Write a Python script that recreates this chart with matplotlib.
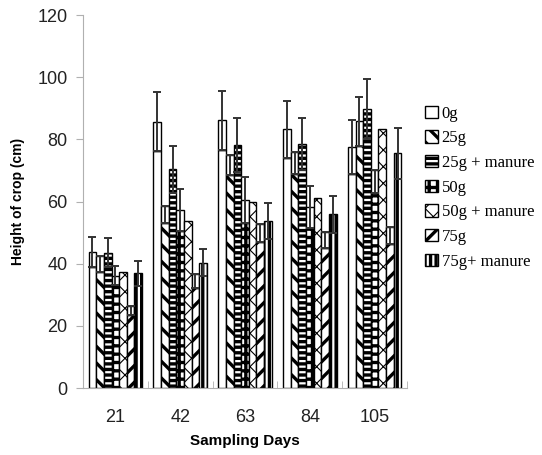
import numpy as np
import matplotlib
matplotlib.use("Agg")
import matplotlib.pyplot as plt
from matplotlib.patches import Patch

days = ["21", "42", "63", "84", "105"]
treatments = ["0g", "25g", "25g + manure", "50g", "50g + manure", "75g", "75g+ manure"]

# mean crop height (cm) per treatment, one value per sampling day
h_0g = [43.7, 85.7, 86.2, 83.3, 77.6]
h_25g = [42.5, 58.7, 75.0, 75.8, 85.8]
h_25gm = [43.5, 70.4, 78.2, 78.5, 89.8]
h_50g = [36.2, 57.3, 60.5, 58.3, 70.1]
h_50gm = [37.4, 53.7, 59.7, 61.0, 83.3]
h_75g = [26.4, 36.6, 52.8, 50.1, 51.9]
h_75gm = [36.9, 40.4, 53.7, 55.9, 75.5]

# lower / upper error as they show on the picture
lo_0g = [4.9, 9.4, 9.5, 9.2, 8.6]
lo_25g = [5.0, 5.6, 6.5, 7.0, 7.9]
lo_25gm = [4.7, 7.5, 8.6, 8.5, 9.6]
lo_50g = [3.0, 6.9, 7.3, 6.8, 7.5]
lo_50gm = [0, 0, 0, 0, 0]
lo_75g = [3.0, 4.4, 5.8, 5.0, 5.4]
lo_75gm = [4.0, 4.3, 5.9, 6.0, 8.3]

up_0g = lo_0g
up_25g = [0, 0, 0, 0, 7.9]
up_25gm = lo_25gm
up_50g = [3.0, 6.9, 7.3, 6.8, 0]
up_50gm = lo_50gm
up_75g = [0, 0, 0, 0, 0]
up_75gm = lo_75gm

heights = [h_0g, h_25g, h_25gm, h_50g, h_50gm, h_75g, h_75gm]
lows = [lo_0g, lo_25g, lo_25gm, lo_50g, lo_50gm, lo_75g, lo_75gm]
ups = [up_0g, up_25g, up_25gm, up_50g, up_50gm, up_75g, up_75gm]

hatches = ["", "\\\\", "---", "++", "xx", "//", "|||"]
hatch_lw = [2.4, 2.4, 2.4, 2.4, 0.8, 2.4, 2.4]
plain_top = [True, True, False, True, False, True, False]


def thin_hatch(patches, lw):
    # per-patch hatch width where the matplotlib version allows it
    for p in patches:
        if hasattr(p, "set_hatch_linewidth"):
            p.set_hatch_linewidth(lw)


plt.rcParams["hatch.linewidth"] = 2.4
fig = plt.figure(figsize=(5.42, 4.55), dpi=100)
ax = fig.add_axes([0.153, 0.147, 0.598, 0.82])

x = np.arange(len(days))
w = 0.118
for i, name in enumerate(treatments):
    pos = x + (i - 3) * w
    h = np.array(heights[i], float)
    lo = np.array(lows[i], float)
    up = np.array(ups[i], float)
    if plain_top[i]:
        b = ax.bar(pos, h - lo, w, color="white", edgecolor="black", lw=1.0, hatch=hatches[i])
        ax.bar(pos, lo, w, bottom=h - lo, color="white", edgecolor="black", lw=1.0)
    else:
        b = ax.bar(pos, h, w, color="white", edgecolor="black", lw=1.0, hatch=hatches[i])
    thin_hatch(b, hatch_lw[i])
    m = (lo > 0) | (up > 0)
    if m.any():
        ax.errorbar(pos[m], h[m], yerr=[lo[m], up[m]], fmt="none", ecolor="#333333",
                    elinewidth=1.4, capsize=2.6, capthick=1.4)

ax.set_xlim(-0.5, len(days) - 0.5)
ax.set_ylim(0, 120)
ax.set_yticks(np.arange(0, 121, 20))
ax.set_xticks(x)
ax.set_xticklabels(days)
ax.set_xticks(np.arange(-0.5, len(days)), minor=True)
ax.tick_params(axis="x", which="major", length=0, pad=15, labelsize=13)
ax.tick_params(axis="x", which="minor", length=5, color="#b0b0b0", direction="in")
ax.tick_params(axis="y", length=5, color="#b0b0b0", labelsize=13, pad=6)
for t in ax.get_xticklabels() + ax.get_yticklabels():
    t.set_fontfamily("Liberation Sans")
    t.set_color("#222222")
for s in ["top", "right"]:
    ax.spines[s].set_visible(False)
for s in ["left", "bottom"]:
    ax.spines[s].set_color("#b0b0b0")

ax.set_ylabel("Height of crop (cm)", fontsize=10, fontweight="bold",
              fontfamily="Liberation Sans", labelpad=9)
ax.set_xlabel("Sampling Days", fontsize=11, fontweight="bold",
              fontfamily="Liberation Sans", labelpad=6)

handles = [Patch(facecolor="white", edgecolor="black", hatch=hatches[i], lw=1.0)
           for i in range(len(treatments))]
thin_hatch(handles, 2.4)
leg = ax.legend(handles, treatments, loc="upper left", bbox_to_anchor=(1.035, 0.775),
                frameon=False, prop={"family": "Liberation Serif", "size": 12},
                handlelength=0.75, handleheight=0.75, handletextpad=0.25, labelspacing=0.52,
                borderaxespad=0)
thin_hatch([leg.get_patches()[4]], 0.8)

fig.savefig("out.png", dpi=100)
